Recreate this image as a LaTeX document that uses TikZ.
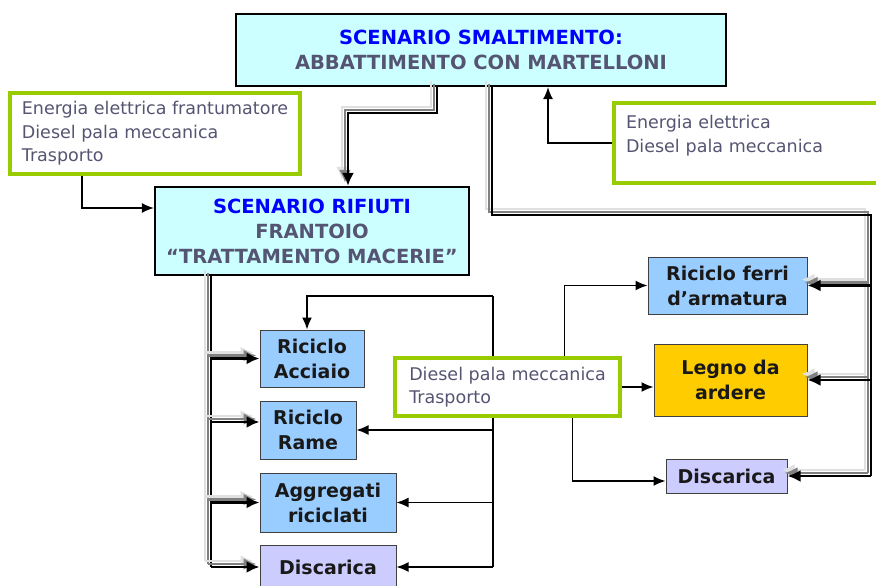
\documentclass[tikz,border=0pt]{standalone}
\usepackage{fontspec}
\setmainfont{DejaVu Sans}
\usepackage{tikz}
\usetikzlibrary{shapes,arrows,arrows.meta}
\definecolor{scencyan}{RGB}{204,255,255}
\definecolor{boxblue}{RGB}{153,204,255}
\definecolor{boxlilac}{RGB}{204,204,255}
\definecolor{boxgold}{RGB}{255,204,0}
\definecolor{notegreen}{RGB}{153,204,0}
\definecolor{greytext}{RGB}{85,85,115}
\definecolor{titleblue}{RGB}{0,0,255}
\tikzstyle{scenario} = [draw, line width=2.2pt, fill=scencyan, align=center, text=greytext, font=\bfseries\fontsize{19.5}{25}\selectfont]
\tikzstyle{outcome} = [draw=black!75, line width=1pt, fill=boxblue, align=center, text=black!90, font=\bfseries\fontsize{19}{25}\selectfont]
\tikzstyle{note} = [draw=notegreen, line width=3.5pt, fill=white, align=left, text=greytext, inner xsep=12pt, font=\fontsize{17.5}{23.5}\selectfont]
\tikzstyle{arrow} = [draw, -{Latex[length=12pt,width=10pt]}, line width=1.5pt]
\tikzstyle{pipeline} = [draw, line width=2.6pt,
  preaction={draw=black!12, line width=2.6pt, transform canvas={shift={(-6pt,6pt)}}},
  preaction={draw=black!50, line width=2.6pt, transform canvas={shift={(-3pt,3pt)}}}]
\tikzstyle{pipe} = [pipeline, -{Latex[length=13pt,width=12pt]}]

\begin{document}
\begin{tikzpicture}[x=1pt, y=-1pt]
\useasboundingbox (0,0) rectangle (876,586);

% scenario boxes
\node[scenario, minimum width=490pt, minimum height=72pt] at (481,50) (top)
  {\textcolor{titleblue}{SCENARIO SMALTIMENTO:}\\ABBATTIMENTO CON MARTELLONI};
\node[scenario, minimum width=314pt, minimum height=88pt] at (312,231) (rifiuti)
  {\textcolor{titleblue}{SCENARIO RIFIUTI}\\FRANTOIO\\“TRATTAMENTO MACERIE”};

% energy notes
\node[note, minimum width=290pt, minimum height=81pt] at (155,133.5) (leftnote)
  {Energia elettrica frantumatore\\Diesel pala meccanica\\Trasporto};
\node[note, text width=242pt, minimum height=80pt] at (747,143) (rightnote)
  {Energia elettrica\\Diesel pala meccanica\rule[-18pt]{0pt}{18pt}};
\node[note, minimum width=225pt, minimum height=58pt] at (507.5,387) (midnote)
  {Diesel pala meccanica\\Trasporto\hspace{9em}};

% left column
\node[outcome, minimum width=104pt, minimum height=57pt] at (312,358.5) (acciaio) {Riciclo\\Acciaio};
\node[outcome, minimum width=96pt, minimum height=58pt] at (308,430) (rame) {Riciclo\\Rame};
\node[outcome, minimum width=136pt, minimum height=59pt] at (328,502.5) (aggregati) {Aggregati\\riciclati};
\node[outcome, fill=boxlilac, minimum width=136pt, minimum height=44pt] at (328,567) (discL) {Discarica};

% right column
\node[outcome, minimum width=159pt, minimum height=57pt] at (727.5,285.5) (ferri) {Riciclo ferri\\d’armatura};
\node[outcome, fill=boxgold, minimum width=153pt, minimum height=72pt] at (730.5,380) (legno) {Legno da\\ardere};
\node[outcome, fill=boxlilac, minimum width=121pt, minimum height=34pt] at (726.5,476) (discR) {Discarica};

% material flows
\path[pipe] ([xshift=-44pt]top.south) -- ++(0,26) -| ([xshift=36pt]rifiuti.north);

\coordinate (rtap) at ([xshift=11pt]top.south);
\coordinate (rbus) at (871,215);
\path[pipeline] (rtap) |- (rbus) -- (rbus |- discR.east);
\path[pipe] (rbus |- ferri.east) -- (ferri.east);
\path[pipe] (rbus |- legno.east) -- (legno.east);
\path[pipe] (rbus |- discR.east) -- (discR.east);

\coordinate (lbus) at ([xshift=-101pt]rifiuti.south);
\path[pipeline] (lbus) -- (lbus |- discL.west);
\path[pipe] (lbus |- acciaio.west) -- (acciaio.west);
\path[pipe] ([yshift=8pt]lbus |- rame.west) -- ([yshift=8pt]rame.west);
\path[pipe] (lbus |- aggregati.west) -- (aggregati.west);
\path[pipe] (lbus |- discL.west) -- (discL.west);

% energy inputs
\path[arrow] ([xshift=-73pt]leftnote.south) |- ([yshift=23pt]rifiuti.west);
\path[arrow] (rightnote.west) -| ([xshift=67pt]top.south);

\coordinate (mbus) at (493,296);
\path[arrow] (mbus) -| ([xshift=-5pt]acciaio.north);
\draw[line width=1.5pt] (mbus) -- (mbus |- midnote.north);
\draw[line width=1.5pt] (mbus |- midnote.south) -- (mbus |- discL.east);
\path[arrow] (mbus |- rame.east) -- (rame.east);
\path[arrow] (mbus |- aggregati.east) -- (aggregati.east);
\path[arrow] (mbus |- discL.east) -- (discL.east);

\path[arrow] ([xshift=57pt]midnote.north) |- (ferri.west);
\path[arrow] (midnote.east) -- (midnote.east -| legno.west);
\path[arrow] ([xshift=65pt]midnote.south) |- ([yshift=-5pt]discR.west);
\end{tikzpicture}
\end{document}
